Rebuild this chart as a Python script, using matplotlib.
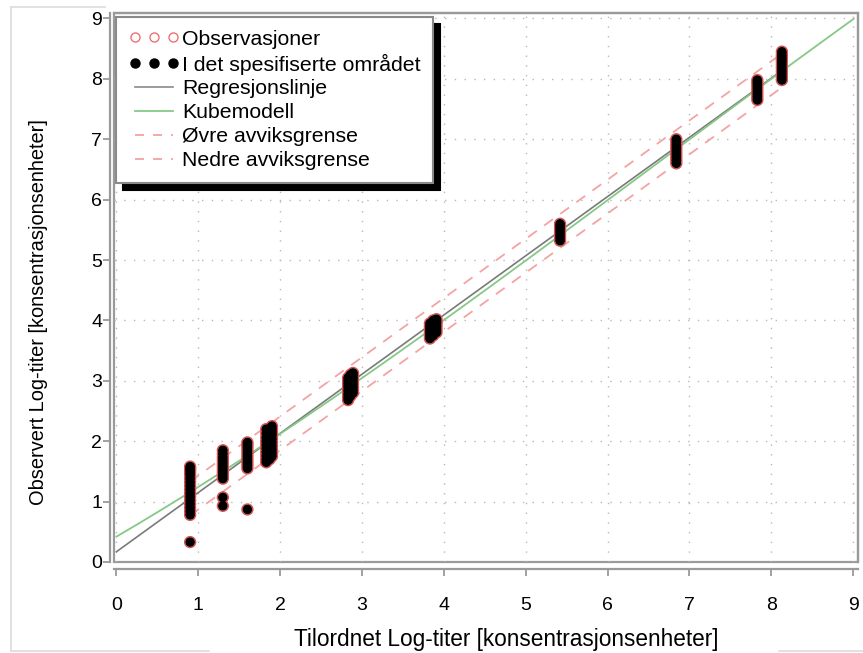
import matplotlib
matplotlib.use("Agg")
import matplotlib.pyplot as plt
import numpy as np
from matplotlib.lines import Line2D
from matplotlib.patches import Rectangle

plt.rcParams['font.family'] = ['Liberation Sans', 'DejaVu Sans']

# ---- data ----
obs_x = [0.9]*17 + [1.3]*12 + [1.6]*11 + [1.83]*10 + [1.87]*10 + [1.9]*10 \
      + [2.83]*8 + [2.86]*8 + [2.89]*8 + [3.83]*6 + [3.87]*6 + [3.91]*6 \
      + [5.42]*7 + [6.84]*9 + [7.83]*8 + [8.13]*11
obs_y = [0.33, 0.78, 0.84, 0.90, 0.96, 1.02, 1.08, 1.14, 1.20, 1.26, 1.32, 1.38, 1.44, 1.48, 1.52, 1.55, 1.58,
         0.93, 1.07, 1.38, 1.43, 1.48, 1.53, 1.58, 1.63, 1.68, 1.73, 1.79, 1.85,
         0.87, 1.55, 1.60, 1.65, 1.70, 1.75, 1.80, 1.85, 1.90, 1.94, 1.98,
         1.65, 1.70, 1.76, 1.82, 1.88, 1.94, 2.00, 2.06, 2.13, 2.20,
         1.70, 1.75, 1.80, 1.86, 1.92, 1.98, 2.03, 2.08, 2.12, 2.16,
         1.75, 1.80, 1.86, 1.92, 1.98, 2.04, 2.10, 2.15, 2.20, 2.25,
         2.68, 2.73, 2.78, 2.84, 2.90, 2.95, 3.00, 3.05,
         2.75, 2.80, 2.85, 2.90, 2.95, 3.00, 3.05, 3.10,
         2.80, 2.85, 2.90, 2.95, 3.00, 3.05, 3.10, 3.13,
         3.70, 3.75, 3.80, 3.85, 3.90, 3.95,
         3.75, 3.80, 3.85, 3.90, 3.95, 4.00,
         3.80, 3.85, 3.90, 3.95, 3.98, 4.02,
         5.32, 5.37, 5.42, 5.47, 5.52, 5.56, 5.60,
         6.60, 6.65, 6.70, 6.75, 6.80, 6.85, 6.90, 6.95, 7.00,
         7.65, 7.70, 7.75, 7.80, 7.85, 7.90, 7.94, 7.98,
         7.98, 8.03, 8.08, 8.13, 8.18, 8.23, 8.28, 8.32, 8.36, 8.40, 8.45]

reg_coef = [0.17, 0.98]                         # intercept, slope
cube_coef = [0.42, 0.792, 0.0327, -0.00166]     # a + b x + c x^2 + d x^3
reg_range = [0.0, 8.1]
cube_range = [0.0, 9.0]
limit_range = [0.9, 8.1]
limit_offset = 0.28

xticks = list(range(0, 10))
yticks = list(range(0, 10))
xlabel = "Tilordnet Log-titer [konsentrasjonsenheter]"
ylabel = "Observert Log-titer [konsentrasjonsenheter]"
legend_labels = ["Observasjoner", "I det spesifiserte området", "Regresjonslinje",
                 "Kubemodell", "Øvre avviksgrense", "Nedre avviksgrense"]

# ---- figure ----
W, H = 863, 653
fig = plt.figure(figsize=(W/100, H/100), dpi=100)
L, R, T, B = 114, 858, 13, 562
ax = fig.add_axes([L/W, 1-B/H, (R-L)/W, (B-T)/H])
ax.set_xlim(-0.03, 9.06)
ax.set_ylim(0.0, 9.09)

gridc = '#b8b8b8'
ax.set_xticks(xticks)
ax.set_yticks(yticks)
ax.grid(True, color=gridc, linestyle=(0, (1, 6)), linewidth=1.0)
ax.set_axisbelow(True)

spc = '#9a9a9a'
for s in ['top', 'right']:
    ax.spines[s].set_color(spc)
    ax.spines[s].set_linewidth(1.6)
ax.spines['left'].set_position(('outward', 3))
ax.spines['bottom'].set_position(('outward', 5))
for s in ['left', 'bottom']:
    ax.spines[s].set_color(spc)
    ax.spines[s].set_linewidth(1.6)
ax.add_patch(Rectangle((0, 0), 1, 1, transform=ax.transAxes, fill=False,
                       edgecolor=spc, linewidth=1.6, zorder=0.5, clip_on=False))
ax.tick_params(axis='both', colors=spc, labelcolor='black', labelsize=14,
               length=5, width=1.3)
ax.tick_params(axis='x', pad=15)
ax.tick_params(axis='y', pad=0.5)

# lines
xr = np.linspace(reg_range[0], reg_range[1], 200)
yr = reg_coef[0] + reg_coef[1]*xr
ax.plot(xr, yr, color='#7a7a7a', lw=1.2, zorder=3)
xc = np.linspace(cube_range[0], cube_range[1], 300)
yc = sum(c*xc**i for i, c in enumerate(cube_coef))
ax.plot(xc, yc, color='#86c986', lw=1.3, zorder=3)
xl = np.linspace(limit_range[0], limit_range[1], 200)
yl = reg_coef[0] + reg_coef[1]*xl
red = '#f4a3a3'
ax.plot(xl, yl + limit_offset, color=red, lw=1.3, ls=(0, (6, 5)), zorder=3)
ax.plot(xl, yl - limit_offset, color=red, lw=1.3, ls=(0, (6, 5)), zorder=3)

# points
ax.scatter(obs_x, obs_y, s=62, facecolor='none', edgecolor='#e05050', linewidth=1.0, zorder=4)
ax.scatter(obs_x, obs_y, s=48, facecolor='black', edgecolor='none', zorder=5)

ax.set_xlabel(xlabel, fontsize=16.3, labelpad=10)
ax.set_ylabel(ylabel, fontsize=14.4, labelpad=31)
ax.xaxis.label.set_x(0.527)
ax.yaxis.label.set_y(0.455)

# legend
handles = [
    Line2D([], [], ls='none', marker='o', markerfacecolor='none', markeredgecolor='#f07070', markersize=6.5),
    Line2D([], [], ls='none', marker='o', markerfacecolor='black', markeredgecolor='black', markersize=6.5),
    Line2D([], [], color='#8a8a8a', lw=1.2),
    Line2D([], [], color='#86c986', lw=1.3),
    Line2D([], [], color=red, lw=1.3, ls=(0, (5, 5))),
    Line2D([], [], color=red, lw=1.3, ls=(0, (5, 5))),
]
leg = ax.legend(handles, legend_labels, loc='upper left', bbox_to_anchor=(0.003, 0.993),
                fontsize=15.3, numpoints=3, handlelength=2.35, handletextpad=0.15,
                labelspacing=0.23, borderpad=0.6, borderaxespad=0.0,
                fancybox=False, framealpha=1, edgecolor='#8a8a8a',
                shadow={'ox': 5, 'oy': -5, 'facecolor': 'black', 'edgecolor': 'black', 'alpha': 1})
leg.get_frame().set_linewidth(1.5)
leg.set_zorder(10)

# outer light frame
lc = '#dcdcdc'
fig.add_artist(Line2D([11/W, 11/W], [1-7/H, 1-651/H], color=lc, lw=1.2))
fig.add_artist(Line2D([11/W, 105/W], [1-7/H, 1-7/H], color=lc, lw=1.2))
fig.add_artist(Line2D([11/W, 209/W], [1-651/H, 1-651/H], color=lc, lw=1.2))
fig.add_artist(Line2D([779/W, 1.0], [1-651/H, 1-651/H], color=lc, lw=1.2))

fig.savefig('out.png', dpi=100)
